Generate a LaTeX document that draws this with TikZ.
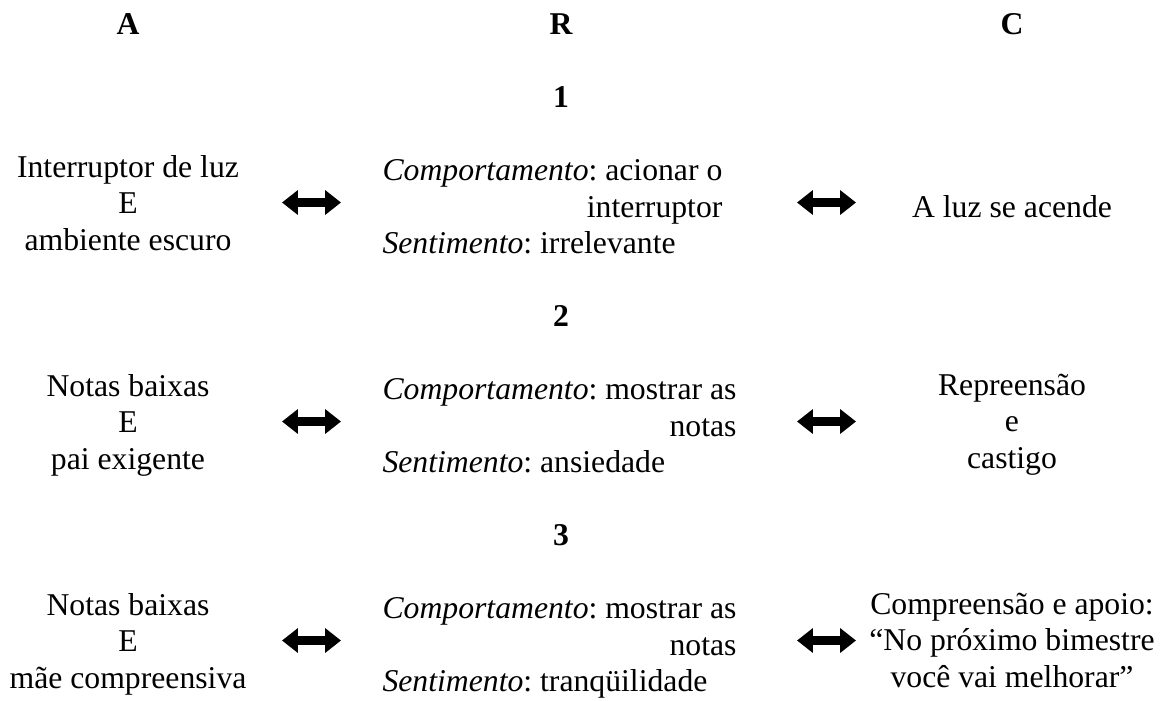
\documentclass[tikz,border=0pt]{standalone}
\usepackage{fontspec}
\setmainfont{Liberation Serif}
\usepackage{tikz}
\usetikzlibrary{arrows.meta}
\frenchspacing

\tikzstyle{cell} = [inner sep=0pt, anchor=north, align=center, font=\fontsize{12pt}{13.82pt}\selectfont, execute at begin node=\strut]
\tikzstyle{head} = [cell, font=\fontsize{12pt}{13.82pt}\selectfont\bfseries]
\tikzstyle{acao} = [inner sep=0pt, anchor=north west, font=\fontsize{12pt}{13.82pt}\selectfont, execute at begin node=\strut]
\tikzstyle{twoway} = [line width=3.5pt, {Triangle[length=6pt,width=9pt]}-{Triangle[length=6pt,width=9pt]}]

% response cell: behaviour, right-set continuation, feeling
\newcommand{\resposta}[3]{\begin{tabular}[t]{@{}l@{}}\textit{Comportamento}: #1\\\multicolumn{1}{@{}r@{}}{#2}\\\textit{Sentimento}: #3\end{tabular}}

\begin{document}
\begin{tikzpicture}[x=0.3785pt, y=-0.3785pt]
                \useasboundingbox (0,0) rectangle (1164,700);

                % column heads
                \node[head] (aHead) at (128,8.5) {A};
                \node[head] (rHead) at (561,8.5) {R};
                \node[head] (cHead) at (1012,8.5) {C};

                % numbers
                \node[head] (n1) at (561,81.5) {1};
                \node[head] (n2) at (561,300.5) {2};
                \node[head] (n3) at (561,519.5) {3};

                % antecedents
                \node[cell] (a1) at (128,154.5) {Interruptor de luz\\E\\ambiente escuro};
                \node[cell] (a2) at (128,373.5) {Notas baixas\\E\\pai exigente};
                \node[cell] (a3) at (128,592.5) {Notas baixas\\E\\mãe compreensiva};

                % responses
                \node[acao] (r1) at (382,154.5) {\resposta{acionar o}{interruptor}{irrelevante}};
                \node[acao] (r2) at (382,373.5) {\resposta{mostrar as}{notas}{ansiedade}};
                \node[acao] (r3) at (382,592.5) {\resposta{mostrar as}{notas}{tranqüilidade}};

                % consequences
                \node[cell] (c1) at (1012,191) {A luz se acende};
                \node[cell] (c2) at (1012,373.5) {Repreensão\\e\\castigo};
                \node[cell] (c3) at (1012,592.5) {Compreensão e apoio:\\“No próximo bimestre\\você vai melhorar”};

                % double arrows
                \foreach \i/\y in {1/202.5, 2/421.5, 3/640.5} {
                    \coordinate (ae\i) at (282,\y);
                    \coordinate (rw\i) at (341,\y);
                    \coordinate (re\i) at (797,\y);
                    \coordinate (cw\i) at (856,\y);
                    \draw[twoway] (ae\i) -- (rw\i);
                    \draw[twoway] (re\i) -- (cw\i);
                }
            \end{tikzpicture}
\end{document}
